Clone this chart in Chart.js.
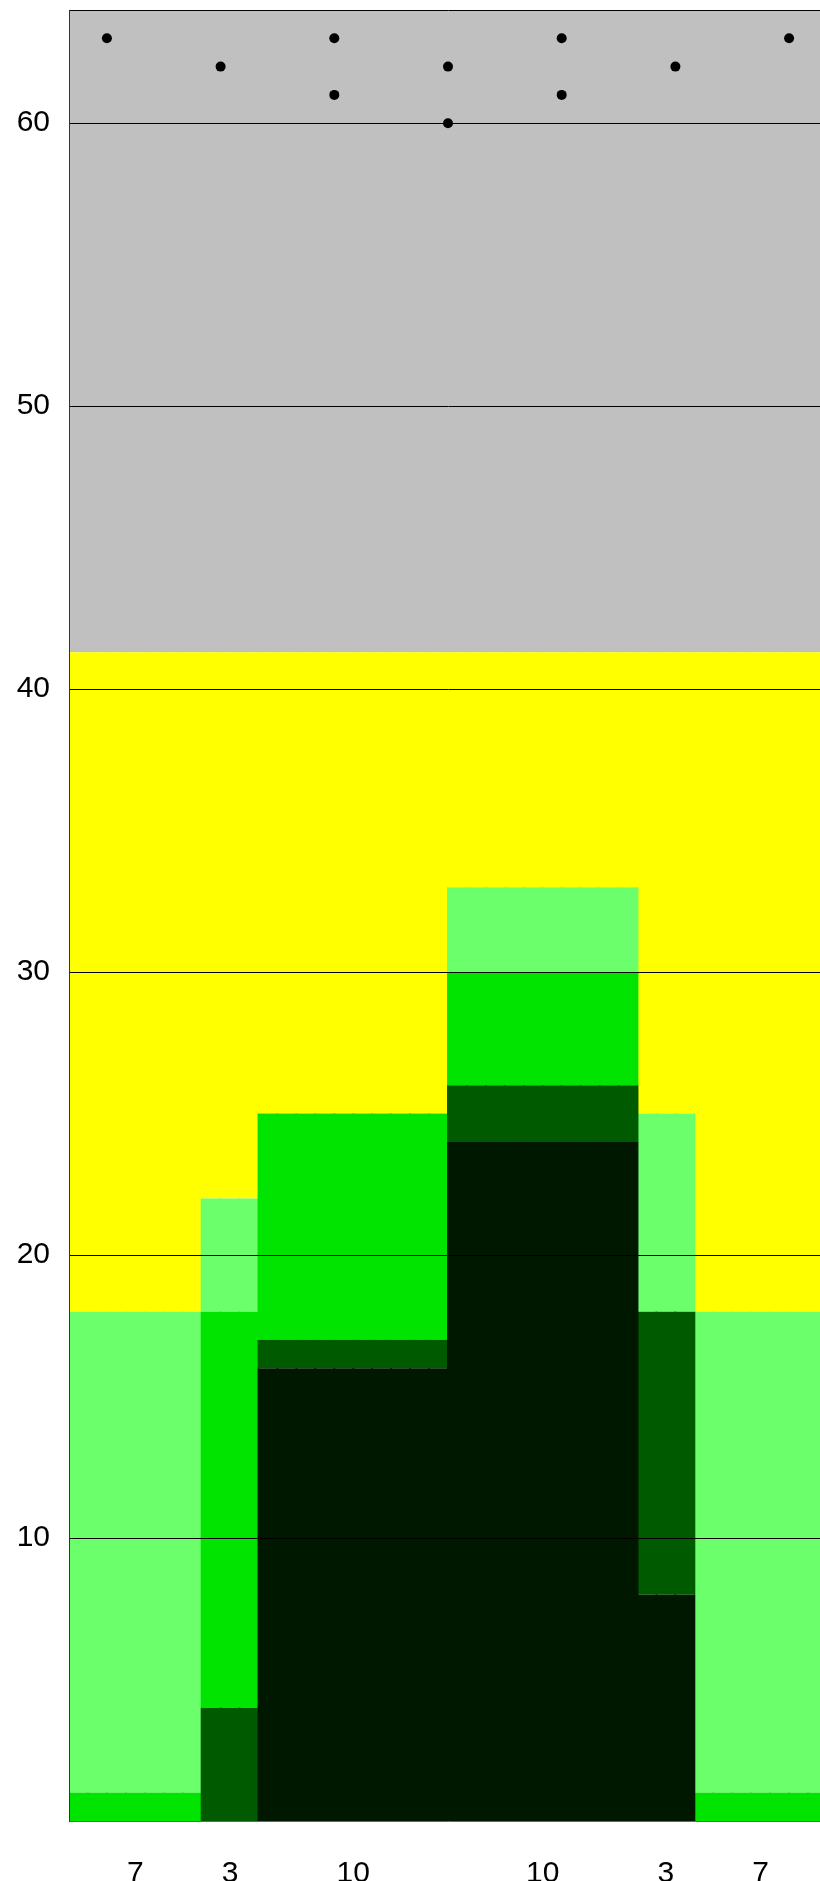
<!DOCTYPE html>
<html>
<head>
<meta charset="utf-8">
<title>Stacked columns</title>
<script src="https://cdn.jsdelivr.net/npm/chart.js@4.4.1/dist/chart.umd.min.js"></script>
<style>
  html, body { margin: 0; padding: 0; background: #fff; overflow: hidden; }
  #wrap { position: relative; width: 832px; height: 1881px; }
</style>
</head>
<body>
<div id="wrap"><canvas id="myChart"></canvas></div>
<script>
// column widths (x units) and the labels under them
const colWidths = [7, 3, 10, 10, 3, 7];
const colLabels = ["7", "3", "10", "10", "3", "7"];

// layer heights per column, from bottom to top
const darkest    = [0, 0, 16, 24, 8, 0];
const darkGreen  = [0, 4, 1, 2, 10, 0];
const green      = [1, 14, 8, 4, 0, 1];
const lightGreen = [17, 4, 0, 3, 7, 17];
const yellow     = [23.3, 19.3, 16.3, 8.3, 16.3, 23.3];
const gray       = [22.7, 22.7, 22.7, 22.7, 22.7, 22.7];

// dots in the grey band
const dotX = [2, 8, 14, 14, 20, 20, 26, 26, 32, 38];
const dotY = [63, 62, 63, 61, 62, 60, 63, 61, 62, 63];

const yTicks = [10, 20, 30, 40, 50, 60];
const yMax = 64;

const layers = [darkest, darkGreen, green, lightGreen, yellow, gray];
const layerColors = ["#001800", "#005a00", "#00e400", "#6cff6c", "#ffff00", "#c0c0c0"];

// where each column starts on the x axis
const colStarts = [];
let acc = 0;
for (const w of colWidths) { colStarts.push(acc); acc += w; }
const xMax = acc;
const colCenters = colStarts.map((s, i) => s + colWidths[i] / 2);

// one unit-wide floating bar per x unit, so columns get their widths
const base = colWidths.map(() => 0);
const barSets = layers.map((layer, li) => {
  const pts = [];
  layer.forEach((h, c) => {
    if (h > 0) {
      for (let u = 0; u < colWidths[c]; u++) {
        pts.push({ x: colStarts[c] + u + 0.5, y: [base[c], base[c] + h] });
      }
    }
    base[c] += h;
  });
  return {
    type: "bar",
    data: pts,
    backgroundColor: layerColors[li],
    borderWidth: 0,
    grouped: false,
    barPercentage: 1.1, // small overlap so unit bars show no seams
    categoryPercentage: 1,
    order: 1
  };
});

const tickFont = { family: "'Liberation Sans', Arial, sans-serif", size: 30 };

const ctx = document.getElementById("myChart");
new Chart(ctx, {
  type: "bar",
  data: {
    datasets: [
      {
        type: "scatter",
        data: dotX.map((x, i) => ({ x: x, y: dotY[i] })),
        backgroundColor: "#000",
        borderWidth: 0,
        pointRadius: 5,
        order: 0
      },
      ...barSets
    ]
  },
  options: {
    responsive: true,
    maintainAspectRatio: false,
    animation: false,
    layout: { padding: { top: 10, left: 0, right: 3, bottom: 0 } },
    plugins: { legend: { display: false }, tooltip: { enabled: false } },
    scales: {
      x: {
        type: "linear",
        min: 0,
        max: xMax,
        offset: false,
        grid: { display: false, offset: false },
        border: { display: true, color: "rgba(0,0,0,0.6)", z: 1 },
        ticks: {
          font: tickFont,
          color: "#000",
          padding: 27,
          autoSkip: false,
          maxRotation: 0,
          callback: (v) => {
            const i = colCenters.indexOf(v);
            return i >= 0 ? colLabels[i] : "";
          }
        },
        afterBuildTicks: (scale) => {
          scale.ticks = colCenters.map((v) => ({ value: v }));
        },
        afterFit: (scale) => {
          scale.height = 60;
          scale.paddingLeft = 0;
          scale.paddingRight = 0;
        }
      },
      y: {
        type: "linear",
        min: 0,
        max: yMax,
        grid: { color: "#000", lineWidth: 1, drawTicks: false, z: 1 },
        border: { display: true, color: "#333", z: 1 },
        ticks: {
          font: tickFont,
          color: "#000",
          padding: 19,
          callback: (v) => (yTicks.includes(v) ? String(v) : "")
        },
        afterBuildTicks: (scale) => {
          scale.ticks = yTicks.concat([yMax]).map((v) => ({ value: v }));
        },
        afterFit: (scale) => {
          scale.width = 69;
          scale.paddingTop = 0;
          scale.paddingBottom = 0;
        }
      }
    }
  }
});
</script>
</body>
</html>
